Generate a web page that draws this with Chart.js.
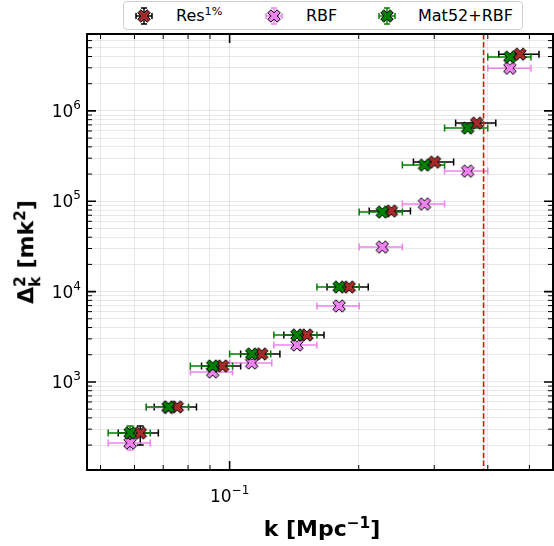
<!DOCTYPE html>
<html>
<head>
<meta charset="utf-8">
<script src="https://cdn.jsdelivr.net/npm/chart.js@4"></script>
<style>
  body { margin: 0; background: #fff; }
  #wrap { position: relative; width: 554px; height: 546px; font-family: 'DejaVu Sans', sans-serif; color: #000; }
  #chart { position: absolute; left: 0; top: 0; }
  sup.s { font-size: 0.7em; vertical-align: 0.5em; line-height: 0; }
  .stack { display: inline-block; font-size: 0.7em; line-height: 0.95; vertical-align: -0.45em; text-align: left; }
  .stack span { display: block; }
  #xtitle { position: absolute; left: 322px; top: 528px; transform: translate(-50%, -50%); font-weight: bold; font-size: 22px; white-space: nowrap; }
  #ytitle { position: absolute; left: 28px; top: 252px; transform: translate(-50%, -50%) rotate(-90deg); font-weight: bold; font-size: 22px; white-space: nowrap; }
  #legend { position: absolute; left: 123px; top: 1px; width: 398px; height: 27px; border: 1px solid #d0d0d0; border-radius: 4px; background: #fff; font-size: 16px; }
  #legend canvas { position: absolute; top: 3px; }
  #legend .lab { position: absolute; top: 4px; white-space: nowrap; }
</style>
</head>
<body>
<div id="wrap">
  <canvas id="chart" width="554" height="546"></canvas>
  <div id="legend">
    <canvas id="legRes" width="22" height="22" style="left:9px"></canvas>
    <span class="lab" style="left:52px">Res<sup class="s">1%</sup></span>
    <canvas id="legRbf" width="22" height="22" style="left:139px"></canvas>
    <span class="lab" style="left:182px">RBF</span>
    <canvas id="legMat" width="22" height="22" style="left:252px"></canvas>
    <span class="lab" style="left:294px">Mat52+RBF</span>
  </div>
  <div id="ytitle">&Delta;<span class="stack"><span>2</span><span>k</span></span> [mk<sup class="s">2</sup>]</div>
  <div id="xtitle">k [Mpc<sup class="s">&minus;1</sup>]</div>
</div>
<script>
// axis limits (log)
var kMin = 0.0465, kMax = 0.5676;
var pMin = 106, pMax = 7.1e6;
var kCut = 0.391;   // red dashed line

// Res 1%
var resK   = [0.0619, 0.0755, 0.0963, 0.1188, 0.1514, 0.1900, 0.2383, 0.3005, 0.3769, 0.4753];
var resP   = [273, 529, 1503, 2040, 3311, 11240, 77930, 271500, 732800, 4250000];
var resKLo = [0.0550, 0.0667, 0.0860, 0.1061, 0.1338, 0.1687, 0.2116, 0.2683, 0.3365, 0.4243];
var resKHi = [0.0682, 0.0837, 0.1061, 0.1310, 0.1660, 0.2105, 0.2640, 0.3329, 0.4175, 0.5265];
var resPLo = [201, null, null, null, null, null, null, null, null, null];
var resPHi = [326, null, null, null, null, null, null, null, null, null];

// RBF
var rbfK   = [0.0586, 0.0720, 0.0913, 0.1126, 0.1435, 0.1800, 0.2270, 0.2847, 0.3590, 0.4502];
var rbfP   = [211, 520, 1290, 1623, 2567, 6930, 31140, 93110, 215800, 2970000];
var rbfKLo = [0.0521, 0.0639, 0.0810, 0.1000, 0.1268, 0.1598, 0.2005, 0.2528, 0.3171, 0.3999];
var rbfKHi = [0.0653, 0.0802, 0.1016, 0.1254, 0.1598, 0.2005, 0.2528, 0.3171, 0.3999, 0.5043];
var rbfPLo = [177, null, null, null, null, null, null, null, null, null];
var rbfPHi = [245, null, null, null, null, null, null, null, null, null];

// Mat52 + RBF
var matK   = [0.0586, 0.0720, 0.0913, 0.1126, 0.1435, 0.1800, 0.2270, 0.2847, 0.3590, 0.4502];
var matP   = [273, 529, 1503, 2040, 3311, 11240, 75960, 251400, 645100, 3940000];
var matKLo = [0.0521, 0.0639, 0.0810, 0.1000, 0.1268, 0.1598, 0.2005, 0.2528, 0.3171, 0.3999];
var matKHi = [0.0653, 0.0802, 0.1016, 0.1247, 0.1598, 0.2005, 0.2528, 0.3171, 0.3999, 0.5043];
var matPLo = [230, null, null, null, null, null, null, null, null, null];
var matPHi = [326, null, null, null, null, null, null, null, null, null];

var series = [
  { name: 'Res', fill: '#a52a2a', bar: '#000000', k: resK, p: resP, kLo: resKLo, kHi: resKHi, pLo: resPLo, pHi: resPHi, order: 3 },
  { name: 'RBF', fill: '#ee82ee', bar: '#ee82ee', k: rbfK, p: rbfP, kLo: rbfKLo, kHi: rbfKHi, pLo: rbfPLo, pHi: rbfPHi, order: 2 },
  { name: 'Mat52+RBF', fill: '#008000', bar: '#008000', k: matK, p: matP, kLo: matKLo, kHi: matKHi, pLo: matPLo, pHi: matPHi, order: 1 }
];

var FONT = "'DejaVu Sans', sans-serif";

function isPow10(v) {
  var l = Math.log10(v);
  return Math.abs(l - Math.round(l)) < 1e-9;
}

function logTicks(min, max) {
  var t = [];
  for (var e = Math.floor(Math.log10(min)); e <= Math.ceil(Math.log10(max)); e++) {
    for (var m = 1; m < 10; m++) {
      var v = m * Math.pow(10, e);
      if (v >= min && v <= max) t.push({ value: v });
    }
  }
  return t;
}

function expText(v) {
  return String(Math.round(Math.log10(v))).replace('-', '\u2212');
}

// filled "X" marker like matplotlib's
function drawX(ctx, cx, cy, size, fill) {
  var pts = [[0.25, 0], [0.5, 0.25], [0.75, 0], [1, 0.25], [0.75, 0.5], [1, 0.75], [0.75, 1], [0.5, 0.75], [0.25, 1], [0, 0.75], [0.25, 0.5], [0, 0.25]];
  ctx.beginPath();
  pts.forEach(function (pt, i) {
    var x = cx + (pt[0] - 0.5) * size, y = cy + (pt[1] - 0.5) * size;
    if (i) ctx.lineTo(x, y); else ctx.moveTo(x, y);
  });
  ctx.closePath();
  ctx.fillStyle = fill;
  ctx.fill();
  ctx.lineWidth = 1;
  ctx.strokeStyle = '#000';
  ctx.stroke();
}

function makeMarker(fill) {
  var c = document.createElement('canvas');
  c.width = 16; c.height = 16;
  drawX(c.getContext('2d'), 8, 8, 12.5, fill);
  return c;
}

function drawLegendIcon(id, s) {
  var ctx = document.getElementById(id).getContext('2d');
  ctx.strokeStyle = s.bar;
  ctx.lineWidth = 1.5;
  ctx.beginPath();
  ctx.moveTo(3, 11); ctx.lineTo(19, 11);
  ctx.moveTo(3, 8); ctx.lineTo(3, 14);
  ctx.moveTo(19, 8); ctx.lineTo(19, 14);
  ctx.moveTo(11, 3); ctx.lineTo(11, 19);
  ctx.moveTo(8, 3); ctx.lineTo(14, 3);
  ctx.moveTo(8, 19); ctx.lineTo(14, 19);
  ctx.stroke();
  drawX(ctx, 11, 11, 12.5, s.fill);
}

// error bars under all markers
var errorBars = {
  id: 'errorBars',
  beforeDatasetsDraw: function (chart) {
    var ctx = chart.ctx, xs = chart.scales.x, ys = chart.scales.y, a = chart.chartArea;
    ctx.save();
    ctx.beginPath();
    ctx.rect(a.left, a.top, a.right - a.left, a.bottom - a.top);
    ctx.clip();
    ctx.lineWidth = 1.5;
    series.forEach(function (s) {
      ctx.strokeStyle = s.bar;
      for (var i = 0; i < s.k.length; i++) {
        var y = ys.getPixelForValue(s.p[i]);
        var x0 = xs.getPixelForValue(s.kLo[i]), x1 = xs.getPixelForValue(s.kHi[i]);
        ctx.beginPath();
        ctx.moveTo(x0, y); ctx.lineTo(x1, y);
        ctx.moveTo(x0, y - 3.5); ctx.lineTo(x0, y + 3.5);
        ctx.moveTo(x1, y - 3.5); ctx.lineTo(x1, y + 3.5);
        if (s.pLo[i] != null) {
          var x = xs.getPixelForValue(s.k[i]);
          var y0 = ys.getPixelForValue(s.pLo[i]), y1 = ys.getPixelForValue(s.pHi[i]);
          ctx.moveTo(x, y0); ctx.lineTo(x, y1);
          ctx.moveTo(x - 3.5, y0); ctx.lineTo(x + 3.5, y0);
          ctx.moveTo(x - 3.5, y1); ctx.lineTo(x + 3.5, y1);
        }
        ctx.stroke();
      }
    });
    // vertical cut line
    var xc = xs.getPixelForValue(kCut);
    ctx.strokeStyle = '#ff0000';
    ctx.lineWidth = 1.6;
    ctx.setLineDash([5.5, 2.4]);
    ctx.beginPath();
    ctx.moveTo(xc, a.top); ctx.lineTo(xc, a.bottom);
    ctx.stroke();
    ctx.restore();
  }
};

// frame, inward ticks on all four sides, and 10^n labels
var frame = {
  id: 'frame',
  afterDraw: function (chart) {
    var ctx = chart.ctx, xs = chart.scales.x, ys = chart.scales.y, a = chart.chartArea;
    ctx.save();
    ctx.strokeStyle = '#000';
    ctx.fillStyle = '#000';
    xs.ticks.forEach(function (t) {
      var x = xs.getPixelForValue(t.value), big = isPow10(t.value), len = big ? 9 : 5;
      ctx.lineWidth = big ? 1.6 : 1;
      ctx.beginPath();
      ctx.moveTo(x, a.bottom); ctx.lineTo(x, a.bottom - len);
      ctx.moveTo(x, a.top); ctx.lineTo(x, a.top + len);
      ctx.stroke();
      if (big) {
        var e = expText(t.value);
        ctx.font = '17px ' + FONT;
        var wb = ctx.measureText('10').width;
        ctx.font = '12px ' + FONT;
        var we = ctx.measureText(e).width;
        var x0 = x - (wb + we) / 2;
        ctx.font = '17px ' + FONT;
        ctx.fillText('10', x0, a.bottom + 32);
        ctx.font = '12px ' + FONT;
        ctx.fillText(e, x0 + wb, a.bottom + 24);
      }
    });
    ys.ticks.forEach(function (t) {
      var y = ys.getPixelForValue(t.value), big = isPow10(t.value), len = big ? 9 : 5;
      ctx.lineWidth = big ? 1.6 : 1;
      ctx.beginPath();
      ctx.moveTo(a.left, y); ctx.lineTo(a.left + len, y);
      ctx.moveTo(a.right, y); ctx.lineTo(a.right - len, y);
      ctx.stroke();
      if (big) {
        var e = expText(t.value);
        ctx.font = '12px ' + FONT;
        var we = ctx.measureText(e).width;
        ctx.font = '17px ' + FONT;
        var wb = ctx.measureText('10').width;
        var x0 = a.left - 6 - we - wb;
        ctx.fillText('10', x0, y + 6);
        ctx.font = '12px ' + FONT;
        ctx.fillText(e, x0 + wb, y - 2);
      }
    });
    ctx.lineWidth = 2;
    ctx.strokeRect(a.left, a.top, a.right - a.left, a.bottom - a.top);
    ctx.restore();
  }
};

var datasets = series.map(function (s) {
  return {
    label: s.name,
    data: s.k.map(function (k, i) { return { x: k, y: s.p[i] }; }),
    pointStyle: makeMarker(s.fill),
    showLine: false,
    order: s.order
  };
});

new Chart(document.getElementById('chart').getContext('2d'), {
  type: 'scatter',
  data: { datasets: datasets },
  options: {
    responsive: false,
    animation: false,
    events: [],
    // autoPadding would push the right edge in by the point radius
    layout: { autoPadding: false, padding: { top: 34, right: 1, left: 0, bottom: 0 } },
    plugins: { legend: { display: false }, tooltip: { enabled: false } },
    scales: {
      x: {
        type: 'logarithmic',
        min: kMin, max: kMax,
        afterBuildTicks: function (s) { s.ticks = logTicks(kMin, kMax); },
        afterFit: function (s) { s.height = 76; s.paddingLeft = 0; s.paddingRight = 0; },
        ticks: { display: false, autoSkip: false },
        grid: { color: 'rgba(0,0,0,0.09)', drawTicks: false },
        border: { display: false }
      },
      y: {
        type: 'logarithmic',
        min: pMin, max: pMax,
        afterBuildTicks: function (s) { s.ticks = logTicks(pMin, pMax); },
        afterFit: function (s) { s.width = 87; s.paddingTop = 0; s.paddingBottom = 0; },
        ticks: { display: false, autoSkip: false },
        grid: { color: 'rgba(0,0,0,0.09)', drawTicks: false },
        border: { display: false }
      }
    }
  },
  plugins: [errorBars, frame]
});

drawLegendIcon('legRes', series[0]);
drawLegendIcon('legRbf', series[1]);
drawLegendIcon('legMat', series[2]);
</script>
</body>
</html>
